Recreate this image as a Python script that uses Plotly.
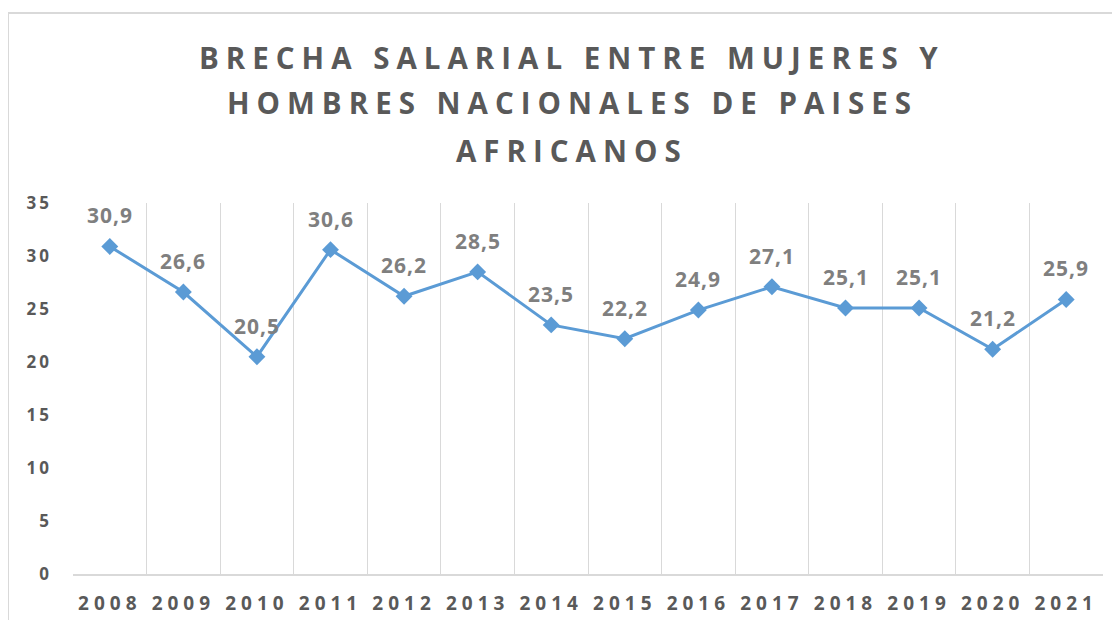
import plotly.graph_objects as go

years = ["2008", "2009", "2010", "2011", "2012", "2013", "2014",
         "2015", "2016", "2017", "2018", "2019", "2020", "2021"]
brecha = [30.9, 26.6, 20.5, 30.6, 26.2, 28.5, 23.5, 22.2, 24.9, 27.1, 25.1, 25.1, 21.2, 25.9]
title_lines = ["BRECHA SALARIAL ENTRE MUJERES Y",
               "HOMBRES NACIONALES DE PAISES",
               "AFRICANOS"]
y_ticks = [0, 5, 10, 15, 20, 25, 30, 35]

OFF = 8  # page body margin
W, H = 1120 - OFF, 620 - OFF
L, R, T, B = 73 - OFF, 17, 203 - OFF, 46
pw, ph = W - L - R, H - T - B


def px_x(x):
    return (x - OFF - L) / pw


def px_y(y):
    return (H - B - (y - OFF)) / ph


def spaced(s, ls):
    return f'<span style="letter-spacing:{ls}px">{s}</span>'


fig = go.Figure()
fig.add_trace(go.Scatter(
    x=years, y=brecha, mode="lines+markers",
    line=dict(color="#5B9BD5", width=3),
    marker=dict(symbol="diamond", size=13, color="#5B9BD5"),
    cliponaxis=False, hoverinfo="x+y",
))

annotations = []
for i, v in enumerate(brecha):
    annotations.append(dict(
        x=i, y=v, xref="x", yref="y", yshift=31, showarrow=False,
        text=spaced(f"{v:.1f}".replace(".", ","), 1),
        xanchor="center", yanchor="middle",
        font=dict(family="Open Sans", size=21, color="#7F7F7F", weight="bold"),
    ))

title_y = [58, 103, 150]
for line, yy in zip(title_lines, title_y):
    annotations.append(dict(
        text=spaced(line, 7), x=px_x(572), y=px_y(yy), xref="paper", yref="paper",
        xanchor="center", yanchor="middle", showarrow=False,
        font=dict(family="Open Sans", size=29.5, color="#595959", weight="bold"),
    ))

fig.update_layout(
    width=W, height=H, autosize=False,
    margin=dict(l=L, r=R, t=T, b=B, autoexpand=False),
    paper_bgcolor="white", plot_bgcolor="white",
    showlegend=False,
    annotations=annotations,
    shapes=[dict(type="rect", xref="paper", yref="paper",
                 x0=px_x(8), x1=px_x(1130), y0=px_y(630), y1=px_y(13),
                 line=dict(color="#D9D9D9", width=2), fillcolor="rgba(0,0,0,0)",
                 layer="below")],
    xaxis=dict(
        type="category", tickson="boundaries", showgrid=True,
        gridcolor="#D9D9D9", gridwidth=1, ticks="",
        showline=True, linecolor="#D9D9D9", linewidth=2,
        tickvals=years, ticktext=[spaced(y, 5) for y in years],
        tickfont=dict(family="Open Sans", size=19, color="#595959", weight="bold"),
        ticklabelstandoff=11, zeroline=False, automargin=False,
        range=[-0.5, 13.5],
    ),
    yaxis=dict(
        range=[0, 35], tickvals=y_ticks, showgrid=False, zeroline=False,
        showline=False, ticks="", automargin=False,
        ticktext=[spaced(str(t), 3) for t in y_ticks],
        tickfont=dict(family="Open Sans", size=17, color="#595959", weight="bold"),
        ticklabelstandoff=20,
    ),
)

fig.write_html("out.html")
